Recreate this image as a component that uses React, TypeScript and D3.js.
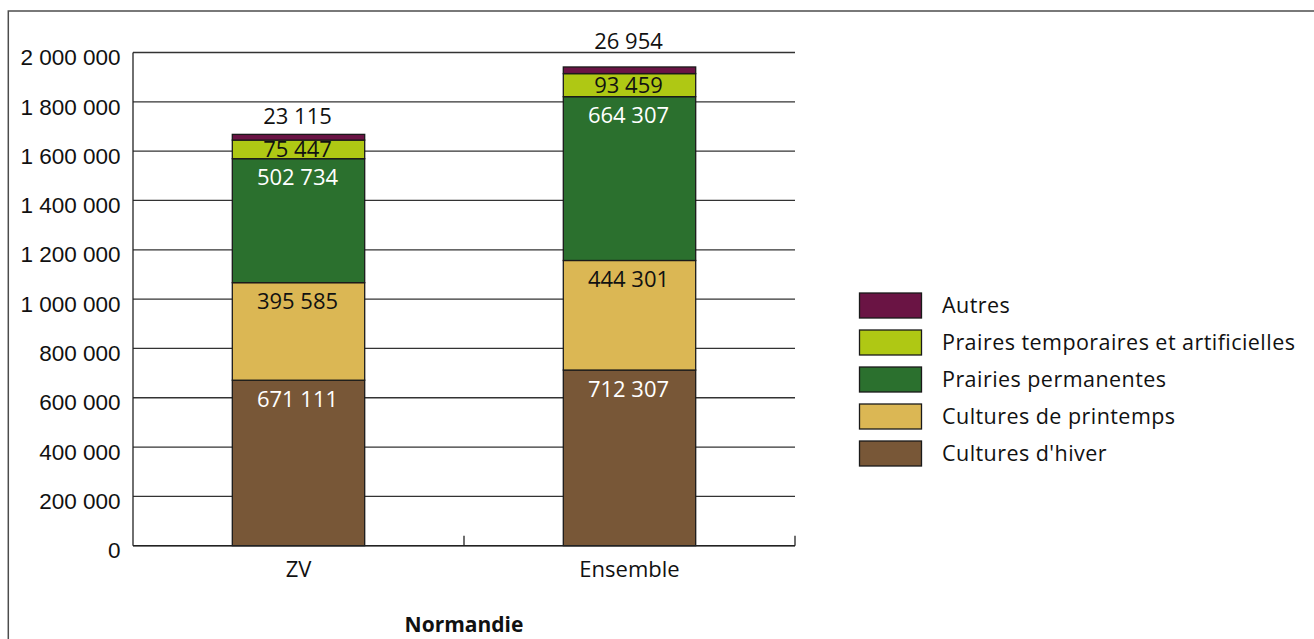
import React from "react";
import * as d3 from "d3";

// Surfaces agricoles (ha) — Normandie
const categories = ["ZV", "Ensemble"];
const seriesKeys = ["hiver", "printemps", "permanentes", "temporaires", "autres"];
const seriesLabels = [
  "Cultures d'hiver",
  "Cultures de printemps",
  "Prairies permanentes",
  "Praires temporaires et artificielles",
  "Autres",
];
const culturesHiver = [671111, 712307];
const culturesPrintemps = [395585, 444301];
const prairiesPermanentes = [502734, 664307];
const prairesTemporaires = [75447, 93459];
const autres = [23115, 26954];
const yTicks = [0, 200000, 400000, 600000, 800000, 1000000, 1200000, 1400000, 1600000, 1800000, 2000000];
const groupTitle = "Normandie";

const colors = ["#785737", "#dbb754", "#2b702e", "#afc814", "#6a1444"];
const labelColors = ["#ffffff", "#111111", "#ffffff", "#111111", "#111111"];

const rows = categories.map((c, i) => ({
  cat: c,
  hiver: culturesHiver[i],
  printemps: culturesPrintemps[i],
  permanentes: prairiesPermanentes[i],
  temporaires: prairesTemporaires[i],
  autres: autres[i],
}));

const fr = d3.formatLocale({
  decimal: ",",
  thousands: "\u00a0",
  grouping: [3],
  currency: ["", " €"],
});
const fmt = fr.format(",");

const W = 1314;
const H = 639;
const left = 133;
const right = 795;
const yBottom = 545.7;
const yTop = 52.5;

export default function App() {
  const x = d3.scaleBand<string>().domain(categories).range([left, right]).padding(0);
  const y = d3.scaleLinear().domain([0, 2000000]).range([yBottom, yTop]);
  const stack = d3.stack<any>().keys(seriesKeys);
  const stacked = stack(rows as any);
  const bw = x.bandwidth();
  const barW = bw * 0.4;
  const barOff = bw * 0.3;

  const numFont = "'Open Sans', sans-serif";
  const axisFont = "'Liberation Sans', Arial, sans-serif";
  const topGap: Record<string, number> = { ZV: 10, Ensemble: 18 };

  const legendOrder = [4, 3, 2, 1, 0];

  return (
    <div style={{ position: "fixed", left: 0, top: 0 }}>
      <svg width={W} height={H} style={{ display: "block", background: "#fff" }}>
        {/* outer frame */}
        <rect x={8.3} y={11} width={W + 20} height={H + 20} fill="none" stroke="#4d4d4d" strokeWidth={1.5} />

        {/* gridlines */}
        {yTicks.map((t) => (
          <line key={"g" + t} x1={left} x2={right} y1={y(t)} y2={y(t)} stroke="#333" strokeWidth={1.3} />
        ))}
        {/* y axis line */}
        <line x1={left} x2={left} y1={y(2000000)} y2={y(0)} stroke="#222" strokeWidth={1.3} />
        {/* y tick labels */}
        {yTicks.map((t) => (
          <text
            key={"yl" + t}
            x={120.5}
            y={y(t) + 12.7}
            textAnchor="end"
            fontFamily={axisFont}
            fontSize={22.5}
            fill="#111"
          >
            {fmt(t)}
          </text>
        ))}

        {/* stacked bars */}
        {stacked.map((s, si) => (
          <g key={s.key}>
            {s.map((d, i) => {
              const cat = categories[i];
              const x0 = (x(cat) as number) + barOff;
              return (
                <rect
                  key={cat}
                  x={x0}
                  y={y(d[1])}
                  width={barW}
                  height={y(d[0]) - y(d[1])}
                  fill={colors[si]}
                  stroke="#1a1a1a"
                  strokeWidth={1.3}
                />
              );
            })}
          </g>
        ))}

        {/* bottom axis and band ticks */}
        <line x1={left} x2={right} y1={y(0)} y2={y(0)} stroke="#222" strokeWidth={1.4} />
        {categories.map((c) => {
          const xe = (x(c) as number) + bw;
          return <line key={"t" + c} x1={xe} x2={xe} y1={y(0)} y2={y(0) - 10} stroke="#222" strokeWidth={1.3} />;
        })}

        {/* value labels */}
        {stacked.map((s, si) => (
          <g key={"lab" + s.key}>
            {s.map((d, i) => {
              const cat = categories[i];
              const cx = (x(cat) as number) + bw / 2 - 1;
              const v = d[1] - d[0];
              let ty: number;
              if (si === 4) ty = y(d[1]) - topGap[cat];
              else if (si === 3) ty = (y(d[0]) + y(d[1])) / 2 + 8;
              else ty = y(d[1]) + 26.5;
              return (
                <text
                  key={cat}
                  x={cx}
                  y={ty}
                  textAnchor="middle"
                  fontFamily={numFont}
                  fontSize={22}
                  fill={labelColors[si]}
                >
                  {fmt(v)}
                </text>
              );
            })}
          </g>
        ))}

        {/* category labels */}
        {categories.map((c) => (
          <text
            key={"xl" + c}
            x={(x(c) as number) + bw / 2}
            y={577.3}
            textAnchor="middle"
            fontFamily={numFont}
            fontSize={22}
            fill="#111"
          >
            {c}
          </text>
        ))}
        <text x={(left + right) / 2} y={632.3} textAnchor="middle" fontFamily={numFont} fontSize={21} fontWeight="bold" fill="#111">
          {groupTitle}
        </text>

        {/* legend */}
        {legendOrder.map((si, k) => {
          const top = 293 + k * 37;
          return (
            <g key={"lg" + si}>
              <rect x={859.5} y={top} width={62} height={25} fill={colors[si]} stroke="#1a1a1a" strokeWidth={1.3} />
              <text
                x={942}
                y={top + 12.5 + 7.5}
                fontFamily={numFont}
                fontSize={21.5}
                letterSpacing={0.45}
                fill="#111"
              >
                {seriesLabels[si]}
              </text>
            </g>
          );
        })}
      </svg>
    </div>
  );
}
